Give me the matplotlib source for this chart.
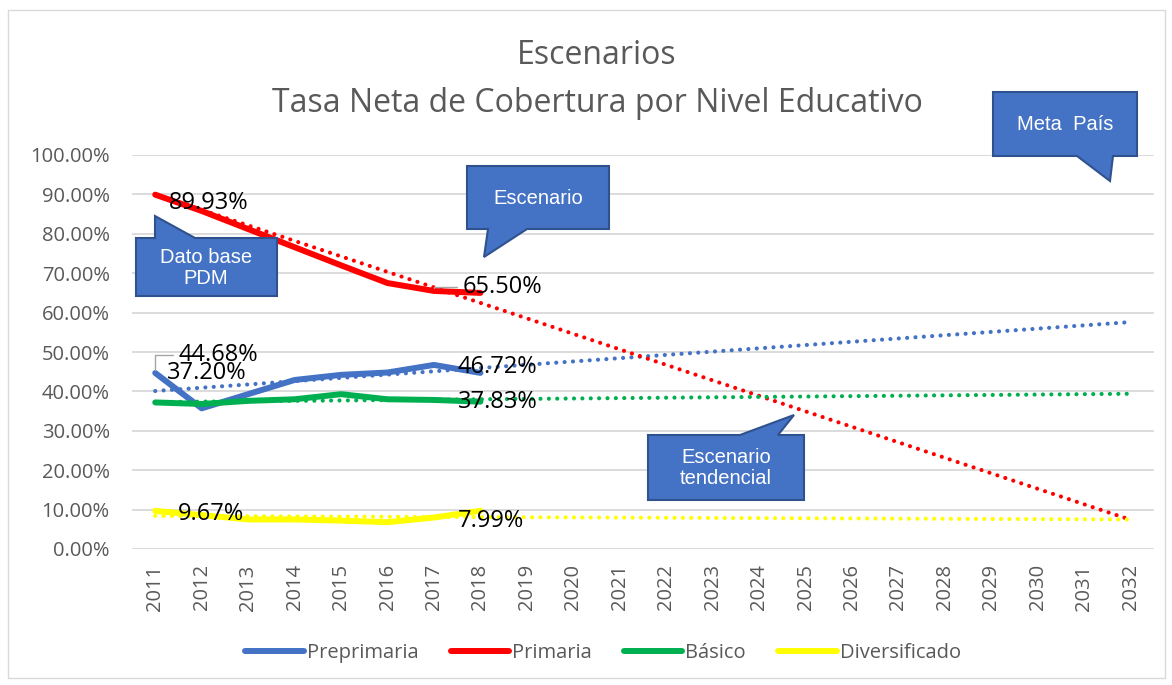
import numpy as np
import matplotlib
matplotlib.use('Agg')
import matplotlib.pyplot as plt
from matplotlib.patches import Polygon, Rectangle

# Data (percent)
years = [str(y) for y in range(2011, 2033)]
series = ['Preprimaria', 'Primaria', 'Básico', 'Diversificado']
preprimaria = [44.68, 35.7, 39.3, 42.9, 44.2, 44.8, 46.72, 44.7]
primaria = [89.93, 85.8, 81.2, 76.6, 72.0, 67.5, 65.50, 65.0]
basico = [37.20, 36.8, 37.6, 38.0, 39.3, 38.0, 37.83, 37.4]
diversificado = [9.67, 8.6, 7.5, 7.5, 7.2, 6.8, 7.99, 9.7]
# linear trend lines (value at 2011, value at 2032)
trend_start = [40.1, 90.0, 37.3, 8.4]
trend_end = [57.6, 7.4, 39.4, 7.5]
colors = ['#4472C4', '#FF0000', '#00B050', '#FFFF00']

W, H = 1172, 685
fig = plt.figure(figsize=(W/100, H/100), dpi=100)

def px(x, y):
    return (x/W, 1 - y/H)

# chart area border
fig.add_artist(Rectangle(px(8, 678), 1157/W, 668/H, fill=False, ec='#d9d9d9', lw=1))

ax = fig.add_axes([132/W, 1-549/H, (1154-132)/W, (549-155)/H])
xs = np.arange(len(years))
vals = [preprimaria, primaria, basico, diversificado]

for name, v, c in zip(series, vals, colors):
    ax.plot(xs[:len(v)], v, color=c, lw=4.3, solid_capstyle='round',
            solid_joinstyle='round', label=name, zorder=3)

for s, e, c in zip(trend_start, trend_end, colors):
    ax.plot([xs[0], xs[-1]], [s, e], color=c, lw=3.0,
            linestyle=(0, (0.01, 2.0)), dash_capstyle='round', zorder=4)

ax.set_xlim(-0.5, len(years) - 0.5)
ax.set_ylim(0, 100)
ax.set_yticks(np.arange(0, 101, 10))
ax.set_yticklabels([f'{t:.2f}%' for t in np.arange(0, 101, 10)])
ax.set_xticks(xs)
ax.set_xticklabels(years, rotation=90)
ax.tick_params(length=0, labelsize=14.5, labelcolor='#595959')
ax.tick_params(axis='x', pad=11)
ax.tick_params(axis='y', pad=16)
for lab in ax.get_xticklabels() + ax.get_yticklabels():
    lab.set_family('Open Sans')
ax.grid(axis='y', color='#d9d9d9', lw=1.3)
ax.set_axisbelow(True)
for sp in ax.spines.values():
    sp.set_visible(False)

# data labels
lbl_kw = dict(textcoords='offset pixels', ha='left', va='center',
              fontsize=17, family='Open Sans', color='black', zorder=6)
leader = dict(arrowstyle='-', color='#a6a6a6', lw=1,
              connectionstyle='angle,angleA=0,angleB=90,rad=0', shrinkA=2, shrinkB=2)
ax.annotate(f'{primaria[0]:.2f}%', (0, primaria[0]), xytext=(14, -8), **lbl_kw)
ax.annotate(f'{preprimaria[0]:.2f}%', (0, preprimaria[0]), xytext=(23, 18),
            arrowprops=leader, **lbl_kw)
ax.annotate(f'{basico[0]:.2f}%', (0, basico[0]), xytext=(12, 29), **lbl_kw)
ax.annotate(f'{diversificado[0]:.2f}%', (0, diversificado[0]), xytext=(23, -3), **lbl_kw)
ax.annotate(f'{primaria[6]:.2f}%', (6, primaria[6]), xytext=(29, 4),
            arrowprops=leader, **lbl_kw)
ax.annotate(f'{preprimaria[6]:.2f}%', (6, preprimaria[6]), xytext=(24, -2), **lbl_kw)
ax.annotate(f'{basico[6]:.2f}%', (6, basico[6]), xytext=(24, -2), **lbl_kw)
ax.annotate(f'{diversificado[6]:.2f}%', (6, diversificado[6]), xytext=(24, -3), **lbl_kw)

# titles
fig.text(*px(597, 56), 'Escenarios', ha='center', va='center', fontsize=23,
         family='Open Sans', color='#595959')
fig.text(*px(597, 103), 'Tasa Neta de Cobertura por Nivel Educativo', ha='center',
         va='center', fontsize=23, family='Open Sans', color='#595959')

# callouts
def callout(pts, text, cx, cy):
    poly = Polygon([px(x, y) for x, y in pts], closed=True, fc='#4472C4',
                   ec='#2F528F', lw=1.5, transform=fig.transFigure, zorder=10)
    fig.add_artist(poly)
    fig.text(*px(cx, cy), text, ha='center', va='center', color='white',
             fontsize=14.5, family=['Liberation Sans Narrow', 'Liberation Sans'],
             linespacing=1.15, zorder=11)

callout([(136, 238), (155, 238), (155, 216), (195, 238), (277, 238), (277, 296), (136, 296)],
        'Dato base\nPDM', 206, 268)
callout([(467, 166), (609, 166), (609, 229), (527, 229), (484, 257), (488, 229), (467, 229)],
        'Escenario', 538, 198)
callout([(993, 92), (1137, 92), (1137, 156), (1113, 156), (1110, 181), (1077, 156), (993, 156)],
        'Meta  País', 1065, 124)
callout([(648, 435), (740, 435), (794, 415), (778, 435), (804, 435), (804, 500), (648, 500)],
        'Escenario\ntendencial', 726, 468)

leg = ax.legend(loc='center', bbox_to_anchor=px(603, 653), bbox_transform=fig.transFigure,
                ncol=4, frameon=False, fontsize=14.5, handlelength=2.9,
                handletextpad=0.15, columnspacing=1.6,
                prop={'family': 'Open Sans', 'size': 14.5})
for t in leg.get_texts():
    t.set_color('#595959')

fig.savefig('out.png', dpi=100)
